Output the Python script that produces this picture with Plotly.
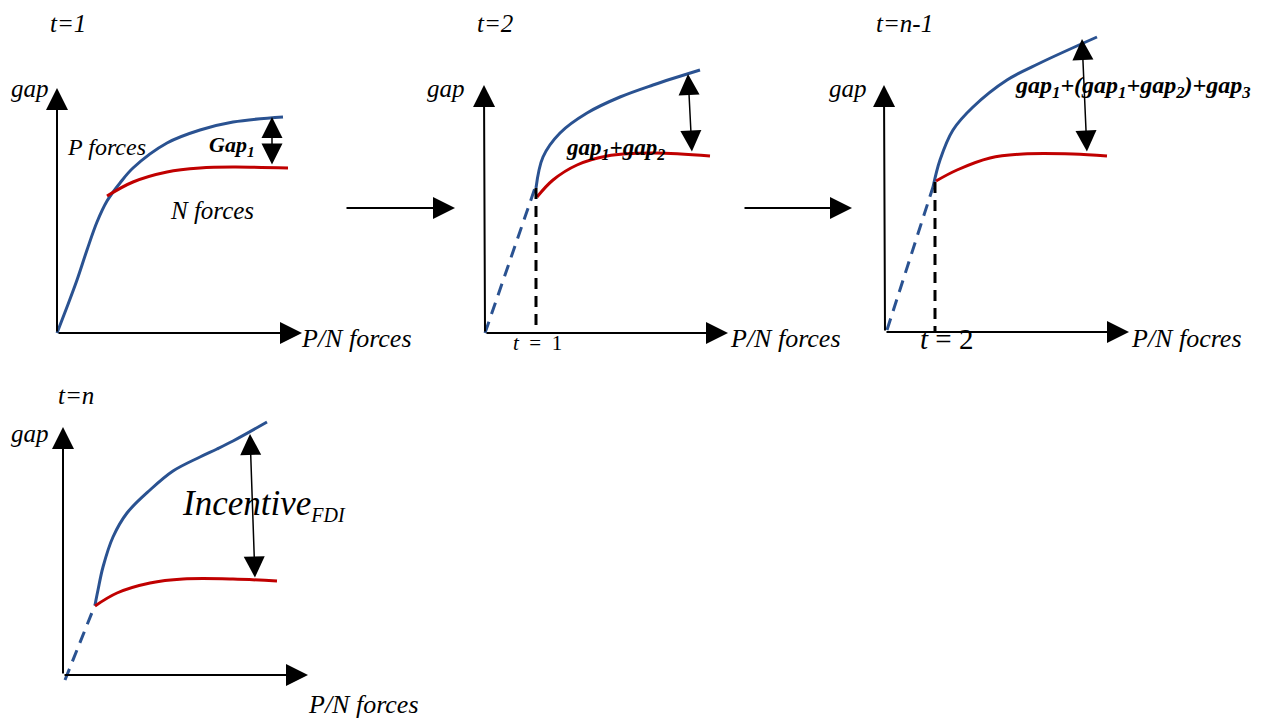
import plotly.graph_objects as go

# all values are positions (pixels, y down)
BLUE = "#2a5291"
RED = "#c00000"
FONT = "Liberation Serif"

# panel 1 (t=1)
p1_blue_x = [57, 67, 77, 87, 97, 107, 120, 133, 167, 200, 233, 283]
p1_blue_y = [333, 307, 280, 250, 222, 201, 183, 168, 143, 130, 122, 117]
p1_red_x = [107, 133, 167, 200, 233, 288]
p1_red_y = [196, 182, 172, 168, 167, 168]

# panel 2 (t=2)
p2_dash_x = [485, 535]
p2_dash_y = [333, 188]
p2_blue_x = [536, 543, 560, 587, 620, 653, 700]
p2_blue_y = [188, 157, 133, 113, 97, 85, 70]
p2_red_x = [537, 553, 577, 607, 653, 710]
p2_red_y = [197, 180, 165, 156, 153, 156]
p2_tick_x = [536, 536]
p2_tick_y = [188, 333]

# panel 3 (t=n-1)
p3_dash_x = [887, 933]
p3_dash_y = [330, 187]
p3_blue_x = [933, 940, 953, 973, 1007, 1040, 1097]
p3_blue_y = [187, 160, 130, 107, 80, 63, 37]
p3_red_x = [936, 957, 990, 1023, 1073, 1107]
p3_red_y = [181, 170, 158, 154, 154, 156]
p3_tick_x = [935, 935]
p3_tick_y = [182, 332]

# panel 4 (t=n)
p4_dash_x = [65, 95]
p4_dash_y = [680, 605]
p4_blue_x = [95, 98, 103, 113, 127, 150, 173, 200, 217, 233, 267]
p4_blue_y = [605, 590, 567, 537, 513, 490, 471, 457, 449, 441, 422]
p4_red_x = [95, 117, 150, 183, 233, 277]
p4_red_y = [606, 593, 583, 579, 579, 581]

# axes: origin and arrow tips
axis_origin = [(57, 333), (485, 333), (885, 332), (63, 675)]
axis_ytip = [(57, 88), (484, 85), (884, 85), (63, 427)]
axis_xtip = [(302, 333), (728, 333), (1129, 332), (308, 675)]

# gap arrows (top, bottom)
gap_top = [(272, 117), (688, 74), (1082, 39), (250, 434)]
gap_bot = [(272, 166), (692, 153), (1087, 153), (255, 579)]

# flow arrows between panels
flow_start = [(345, 208), (743, 208)]
flow_end = [(455, 208), (852, 208)]

fig = go.Figure()

def curve(x, y, color, dash="solid"):
    fig.add_trace(go.Scatter(x=x, y=y, mode="lines", line_shape="spline",
                             line=dict(color=color, width=3, dash=dash),
                             hoverinfo="skip", showlegend=False))

curve(p1_blue_x, p1_blue_y, BLUE)
curve(p1_red_x, p1_red_y, RED)
for dx, dy, bx, by, rx, ry in [
        (p2_dash_x, p2_dash_y, p2_blue_x, p2_blue_y, p2_red_x, p2_red_y),
        (p3_dash_x, p3_dash_y, p3_blue_x, p3_blue_y, p3_red_x, p3_red_y),
        (p4_dash_x, p4_dash_y, p4_blue_x, p4_blue_y, p4_red_x, p4_red_y)]:
    fig.add_trace(go.Scatter(x=dx, y=dy, mode="lines",
                             line=dict(color=BLUE, width=3, dash="12px,8px"),
                             hoverinfo="skip", showlegend=False))
    curve(bx, by, BLUE)
    curve(rx, ry, RED)
for tx, ty in [(p2_tick_x, p2_tick_y), (p3_tick_x, p3_tick_y)]:
    fig.add_trace(go.Scatter(x=tx, y=ty, mode="lines",
                             line=dict(color="black", width=3, dash="11px,7px"),
                             hoverinfo="skip", showlegend=False))

def arrow(tail, head, width=2, size=1.6, both=False):
    fig.add_annotation(x=head[0], y=head[1], ax=tail[0], ay=tail[1],
                       xref="x", yref="y", axref="x", ayref="y",
                       showarrow=True, arrowhead=2, arrowsize=size,
                       arrowwidth=width, arrowcolor="black", text="",
                       arrowside="end+start" if both else "end",
                       standoff=0, startstandoff=0)

for o, yt, xt in zip(axis_origin, axis_ytip, axis_xtip):
    arrow(o, yt, width=2, size=2.2)
    arrow(o, xt, width=2, size=2.2)
for i, (t, b) in enumerate(zip(gap_top, gap_bot)):
    arrow(b, t, width=1.5, size=2.8, both=True)
for s, e in zip(flow_start, flow_end):
    arrow(s, e, width=2, size=2.2)

def label(x, y, text, size=25, anchor="left"):
    fig.add_annotation(x=x, y=y, xref="x", yref="y", text=text,
                       showarrow=False, xanchor=anchor, yanchor="middle",
                       font=dict(family=FONT, size=size, color="black"))

# titles
label(48, 23, "<i>t=1</i>")
label(475, 23, "<i>t=2</i>")
label(874, 23, "<i>t=n-1</i>")
label(56, 395, "<i>t=n</i>")
# y labels
label(9, 88, "<i>gap</i>")
label(425, 88, "<i>gap</i>")
label(827, 88, "<i>gap</i>")
label(9, 433, "<i>gap</i>")
# x labels
label(299, 338, "<i>P/N forces</i>", size=26)
label(728, 338, "<i>P/N forces</i>", size=26)
label(1129, 338, "<i>P/N focres</i>", size=26)
label(306, 704, "<i>P/N forces</i>", size=26)
# panel annotations
label(65, 147, "<i>P forces</i>", size=24)
label(168, 210, "<i>N forces</i>", size=25)
label(207, 146, "<b><i>Gap<sub>1</sub></i></b>", size=22)
label(564, 149, "<b><i>gap<sub>1</sub>+gap<sub>2</sub></i></b>", size=23)
label(1013, 87, "<b><i>gap<sub>1</sub>+(gap<sub>1</sub>+gap<sub>2</sub>)+gap<sub>3</sub></i></b>", size=24)
label(180, 505, "<i>Incentive<sub><span style='font-size:20px'>FDI</span></sub></i>", size=35)
label(511, 343, "<i>t</i>  =  1", size=21)
label(918, 339, "<i>t</i> = 2", size=29)

# the page body has an 8px margin, so the axes start at 8
fig.update_xaxes(range=[8, 1273], visible=False)
fig.update_yaxes(range=[718, 8], visible=False)
fig.update_layout(width=1265, height=710, margin=dict(l=0, r=0, t=0, b=0),
                  plot_bgcolor="white", paper_bgcolor="white")

fig.write_html("out.html")
